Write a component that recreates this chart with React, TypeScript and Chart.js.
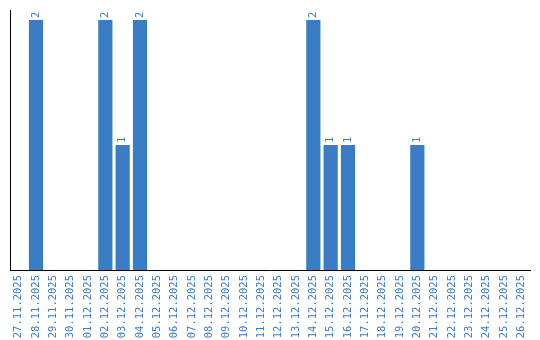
import React, { useEffect, useRef } from "react";
import { Chart, registerables } from "chart.js";

Chart.register(...registerables);

const categories = [
  "27.11.2025", "28.11.2025", "29.11.2025", "30.11.2025", "01.12.2025",
  "02.12.2025", "03.12.2025", "04.12.2025", "05.12.2025", "06.12.2025",
  "07.12.2025", "08.12.2025", "09.12.2025", "10.12.2025", "11.12.2025",
  "12.12.2025", "13.12.2025", "14.12.2025", "15.12.2025", "16.12.2025",
  "17.12.2025", "18.12.2025", "19.12.2025", "20.12.2025", "21.12.2025",
  "22.12.2025", "23.12.2025", "24.12.2025", "25.12.2025", "26.12.2025",
];

const counts = [
  0, 2, 0, 0, 0,
  2, 1, 2, 0, 0,
  0, 0, 0, 0, 0,
  0, 0, 2, 1, 1,
  0, 0, 0, 1, 0,
  0, 0, 0, 0, 0,
];

const BLUE = "rgb(58,125,196)";

const valueLabels = {
  id: "valueLabels",
  afterDatasetsDraw(chart: any) {
    const ctx = chart.ctx;
    const meta = chart.getDatasetMeta(0);
    ctx.save();
    ctx.fillStyle = BLUE;
    ctx.font = "10.5px 'DejaVu Sans Mono'";
    ctx.textAlign = "left";
    ctx.textBaseline = "middle";
    meta.data.forEach((bar: any, i: number) => {
      const v = counts[i];
      if (!v) return;
      ctx.save();
      ctx.translate(bar.x, bar.y - 2);
      ctx.rotate(-Math.PI / 2);
      ctx.fillText(String(v), 0, 0);
      ctx.restore();
    });
    ctx.restore();
  },
};

export default function App() {
  const ref = useRef<HTMLCanvasElement>(null);
  useEffect(() => {
    document.body.style.margin = "0";
    const chart = new Chart(ref.current!, {
      type: "bar",
      data: {
        labels: categories,
        datasets: [{ data: counts, backgroundColor: BLUE, borderWidth: 0, barPercentage: 0.82, categoryPercentage: 1 }],
      },
      options: {
        animation: false,
        responsive: false,
        layout: { padding: { left: 10, right: 10, top: 10, bottom: 0 } },
        plugins: { legend: { display: false }, tooltip: { enabled: false } },
        scales: {
          x: {
            grid: { display: false, drawTicks: false },
            border: { display: true, color: "#000", width: 1 },
            afterFit: (axis: any) => { axis.height = 70; },
            ticks: {
              color: BLUE,
              font: { family: "'DejaVu Sans Mono'", size: 10.5 },
              minRotation: 90,
              maxRotation: 90,
              autoSkip: false,
              padding: 5,
            },
          },
          y: {
            min: 0,
            max: 2.08,
            grid: { display: false, drawTicks: false },
            border: { display: true, color: "#000", width: 1 },
            ticks: { display: false },
          },
        },
      },
      plugins: [valueLabels],
    });
    return () => chart.destroy();
  }, []);
  return <canvas ref={ref} width={540} height={340} style={{ display: "block" }} />;
}
